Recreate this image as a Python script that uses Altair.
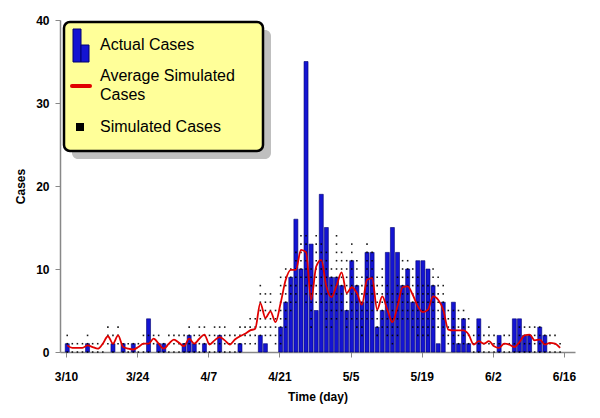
import altair as alt
import pandas as pd

# ---- data ----
days = list(range(99))  # day 0 = 3/10 ... day 98 = 6/16

actual_cases = [
    1, 0, 0, 0, 1, 0, 0, 0, 0, 1,
    0, 1, 0, 1, 0, 0, 4, 0, 1, 1,
    0, 0, 0, 1, 2, 1, 0, 1, 0, 0,
    2, 0, 0, 0, 1, 0, 0, 0, 2, 1,
    0, 0, 3, 6, 9, 16, 10, 35, 13, 5,
    19, 15, 9, 9, 8, 5, 11, 8, 6, 12,
    12, 3, 5, 12, 15, 12, 8, 10, 6, 11,
    11, 10, 8, 1, 6, 0, 6, 1, 4, 1,
    0, 4, 0, 0, 0, 2, 0, 0, 4, 4,
    2, 2, 0, 3, 2, 0, 0, 0, 0,
]

avg_simulated = [
    0.8, 0.5, 0.5, 0.5, 0.8, 0.6, 0.4, 1.0, 1.9, 1.0,
    2.0, 0.6, 0.4, 0.3, 0.6, 1.0, 1.0, 1.6, 1.0, 0.4,
    1.0, 1.5, 1.1, 0.7, 1.6, 1.0, 1.6, 2.1, 0.9, 1.4,
    1.8, 1.4, 0.9, 1.5, 1.9, 2.2, 2.6, 2.8, 5.9, 4.1,
    4.9, 3.6, 5.9, 8.7, 9.9, 9.9, 12.3, 12.0, 6.3, 10.3,
    11.1, 7.9, 6.6, 8.0, 9.6, 7.1, 7.8, 7.1, 5.7, 8.7,
    8.9, 5.1, 6.7, 5.1, 3.6, 5.5, 7.8, 7.9, 6.9, 5.5,
    4.8, 5.1, 6.7, 6.3, 5.1, 2.7, 2.6, 2.6, 2.6, 2.1,
    0.9, 1.3, 1.0, 1.3, 0.7, 0.5, 1.0, 0.9, 0.6, 1.2,
    2.0, 2.1, 1.4, 1.5, 0.9, 1.1, 1.0, 0.5,
]

# simulated-case dot columns: lowest and highest dot seen for each day
sim_low = [
    0, 0, 0, 0, 0, 0, 0, 0, 1, 0,
    1, 0, 0, 0, 0, 0, 0, 1, 0, 0,
    0, 0, 0, 0, 0, 0, 0, 0, 0, 0,
    0, 0, 0, 0, 0, 1, 1, 1, 2, 2,
    2, 1, 1, 3, 5, 6, 9, 6, 3, 6,
    6, 3, 3, 4, 5, 3, 4, 3, 2, 4,
    4, 2, 3, 2, 1, 2, 4, 4, 3, 2,
    2, 2, 3, 3, 2, 1, 1, 1, 1, 1,
    0, 0, 0, 0, 0, 0, 0, 0, 0, 0,
    0, 0, 0, 0, 0, 0, 0, 0,
]
sim_high = [
    2, 1, 1, 1, 2, 1, 1, 1, 3, 2,
    3, 1, 1, 1, 1, 2, 2, 2, 2, 1,
    2, 2, 2, 2, 3, 2, 3, 3, 2, 3,
    3, 3, 2, 2, 3, 3, 4, 4, 8, 7,
    7, 5, 9, 10, 10, 12, 14, 14, 10, 14,
    13, 12, 10, 14, 12, 11, 13, 11, 9, 13,
    12, 9, 10, 8, 7, 9, 11, 11, 10, 9,
    8, 8, 10, 9, 8, 5, 5, 5, 5, 4,
    2, 3, 2, 3, 2, 1, 2, 2, 1, 3,
    3, 3, 3, 3, 2, 2, 2, 1,
]

tick_days = [0, 14, 28, 42, 56, 70, 84, 98]
tick_labels = ["3/10", "3/24", "4/7", "4/21", "5/5", "5/19", "6/2", "6/16"]

legend_labels = ["Actual Cases", "Average Simulated", "Cases", "Simulated Cases"]

# ---- tables ----
bars_df = pd.DataFrame({"day": days, "cases": actual_cases})
bars_df = bars_df[bars_df["cases"] > 0]
line_df = pd.DataFrame({"day": days[:len(avg_simulated)], "avg": avg_simulated})
dot_rows = []
for d, lo, hi in zip(days, sim_low, sim_high):
    for v in range(int(lo), int(hi) + 1):
        dot_rows.append({"day": d, "sim": v})
dots_df = pd.DataFrame(dot_rows)

label_expr = " : ".join(
    f"datum.value == {d} ? '{l}'" for d, l in zip(tick_days, tick_labels)
) + " : ''"

FONT = "Liberation Sans"
xscale = alt.Scale(domain=[-0.19, 99.2], nice=False, zero=False)
yscale = alt.Scale(domain=[0, 40], nice=False)

x_enc = alt.X(
    "xpos:Q", scale=xscale,
    axis=alt.Axis(values=tick_days, labelExpr=label_expr, title="Time (day)",
                  grid=False, tickSize=5, labelPadding=14, titlePadding=9,
                  domainColor="#888888", tickColor="#888888"),
)

bars = alt.Chart(bars_df).transform_calculate(xpos="datum.day + 0.25").mark_bar(
    size=4, color="#1414D2", stroke="#000070", strokeWidth=0.6
).encode(
    x=x_enc,
    y=alt.Y("cases:Q", scale=yscale,
            axis=alt.Axis(values=[0, 10, 20, 30, 40], title="Cases", grid=False,
                          tickSize=5, labelPadding=6, titlePadding=8,
                          domainColor="#888888", tickColor="#888888")),
)

dots = alt.Chart(dots_df).transform_calculate(xpos="datum.day + 0.25").mark_square(
    size=2.5, color="black", opacity=0.9
).encode(x="xpos:Q", y="sim:Q")

line = alt.Chart(line_df).transform_calculate(xpos="datum.day + 0.25").mark_line(
    color="#E00000", strokeWidth=1.8, interpolate="monotone"
).encode(x="xpos:Q", y="avg:Q")

one = pd.DataFrame({"k": [0]})
shadow = alt.Chart(one).mark_rect(cornerRadius=6, color="#BFBFBF").encode(
    x=alt.value(12), x2=alt.value(211), y=alt.value(10), y2=alt.value(139))
box = alt.Chart(one).mark_rect(cornerRadius=6, fill="#FFFF99", stroke="black",
                               strokeWidth=2.5).encode(
    x=alt.value(4), x2=alt.value(203), y=alt.value(2), y2=alt.value(131))
icon_tall = alt.Chart(one).mark_rect(fill="#1414D2", stroke="#000070", strokeWidth=1).encode(
    x=alt.value(13), x2=alt.value(21), y=alt.value(9), y2=alt.value(42))
icon_short = alt.Chart(one).mark_rect(fill="#1414D2", stroke="#000070", strokeWidth=1).encode(
    x=alt.value(21), x2=alt.value(29), y=alt.value(25), y2=alt.value(42))
icon_line = alt.Chart(one).mark_rule(color="#E00000", strokeWidth=4, strokeCap="round").encode(
    x=alt.value(12), x2=alt.value(30), y=alt.value(66))
icon_sq = alt.Chart(one).mark_square(size=64, color="black", opacity=1).encode(
    x=alt.value(20), y=alt.value(107))

texts = []
for lbl, yy in zip(legend_labels, [25, 56, 75, 107]):
    texts.append(alt.Chart(one).mark_text(
        text=lbl, align="left", baseline="middle", font=FONT, fontSize=16, color="black"
    ).encode(x=alt.value(40), y=alt.value(yy)))

chart = alt.layer(
    bars, dots, line, shadow, box, icon_tall, icon_short, icon_line, icon_sq, *texts
).properties(
    width=515, height=332,
    padding={"left": 52, "top": 12, "right": 17, "bottom": 56},
    autosize=alt.AutoSizeParams(type="none"),
).configure_view(stroke=None).configure_axis(
    labelFont=FONT, labelFontSize=12, labelFontWeight="bold", labelColor="black",
    titleFont=FONT, titleFontSize=12, titleFontWeight="bold", titleColor="black",
    domainWidth=1.5,
)

chart.save("out.html", embed_options={"renderer": "svg", "actions": False})
